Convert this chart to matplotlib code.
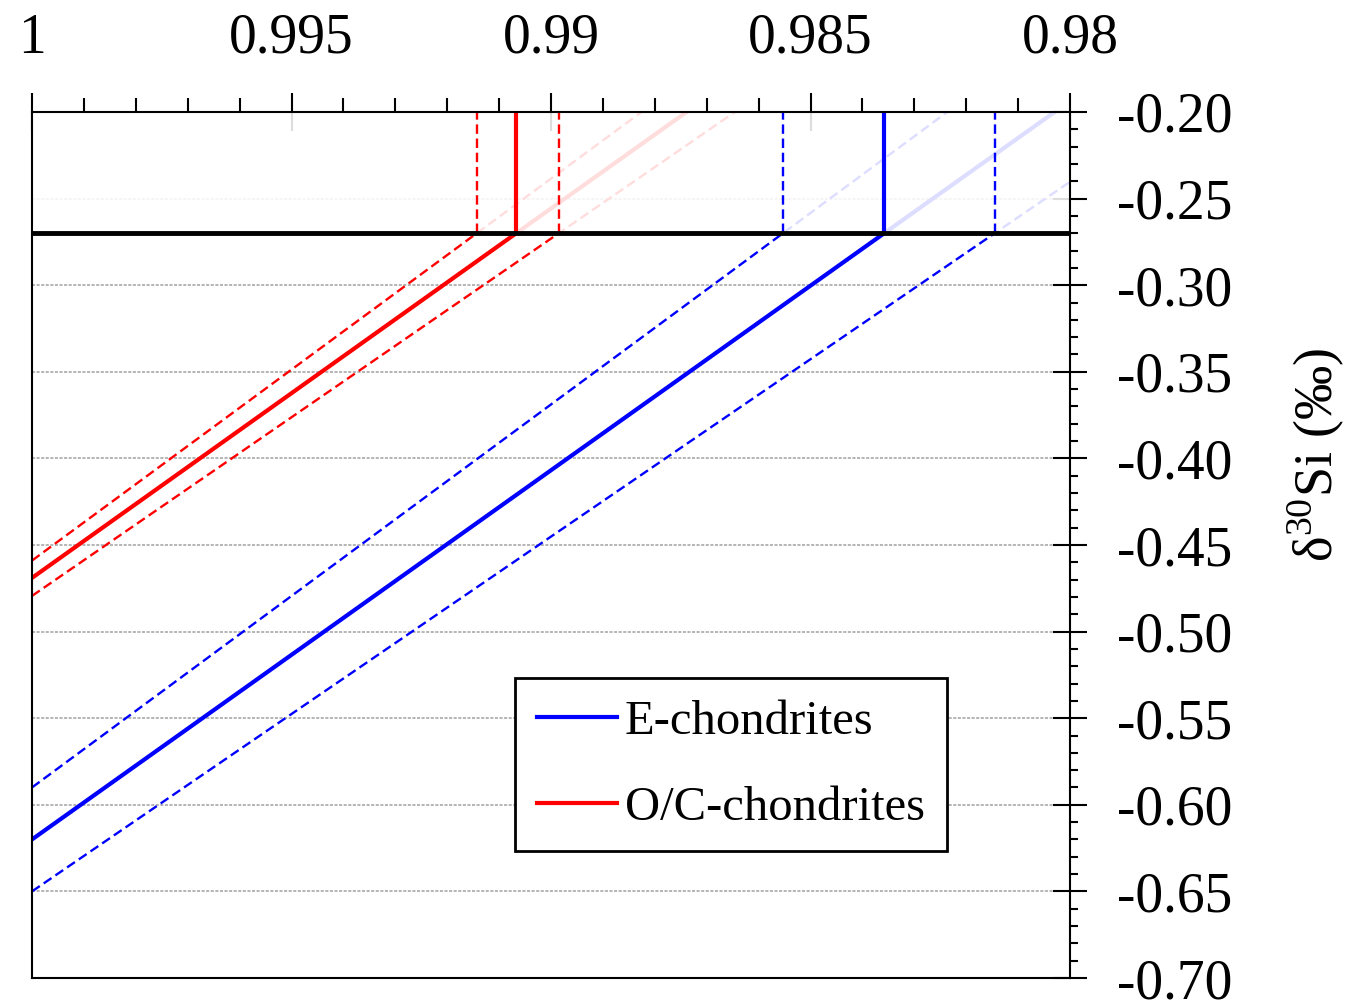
import numpy as np
import matplotlib
matplotlib.use("Agg")
import matplotlib.pyplot as plt
from matplotlib.ticker import MultipleLocator, FixedLocator, FixedFormatter

plt.rcParams['font.family'] = ['Liberation Serif', 'DejaVu Serif']
plt.rcParams['mathtext.fontset'] = 'custom'
plt.rcParams['mathtext.rm'] = 'Liberation Serif'

# level of the horizontal cut (permil)
y_cut = -0.27

# E-chondrites: value at x=1 and x where the line meets the cut (low, mean, high)
e_y0 = [-0.590, -0.620, -0.650]
e_xcut = [0.98553, 0.98358, 0.98145]

# O/C-chondrites
oc_y0 = [-0.459, -0.469, -0.4794]
oc_xcut = [0.99143, 0.99067, 0.98985]

x_ticks = [1.0, 0.995, 0.99, 0.985, 0.98]
x_labels = ['1', '0.995', '0.99', '0.985', '0.98']
y_ticks = [-0.70, -0.65, -0.60, -0.55, -0.50, -0.45, -0.40, -0.35, -0.30, -0.25, -0.20]
y_labels = ['-0.70', '-0.65', '-0.60', '-0.55', '-0.50', '-0.45', '-0.40',
            '-0.35', '-0.30', '-0.25', '-0.20']

fig = plt.figure(figsize=(13.5, 10.07), dpi=100)
ax = fig.add_axes([32 / 1350, 1 - 978 / 1007, 1038 / 1350, 866 / 1007])
ax.set_axisbelow(True)

ax.set_xlim(1.0, 0.98)
ax.set_ylim(-0.70, -0.20)


def draw_group(y0s, xcuts, color, label):
    for i, (y0, xc) in enumerate(zip(y0s, xcuts)):
        solid = i == 1
        ls = '-' if solid else (0, (4, 2))
        lw = 3 if solid else 1.7
        # full line through the cut point, up to the top of the plot
        x_top = 1 + (xc - 1) * (-0.20 - y0) / (y_cut - y0)
        ax.plot([1.0, x_top], [y0, -0.20], color=color, ls=ls, lw=lw,
                zorder=2, label=label if solid else None)
        # vertical line above the cut
        ax.plot([xc, xc], [y_cut, -0.20], color=color, ls=ls, lw=lw, zorder=4)


draw_group(e_y0, e_xcut, 'blue', 'E-chondrites')
draw_group(oc_y0, oc_xcut, 'red', 'O/C-chondrites')

# fade everything above the cut
ax.axhspan(y_cut, -0.20, color='white', alpha=0.87, zorder=3, lw=0)
ax.axhline(y_cut, color='black', lw=3.5, zorder=5)

ax.grid(axis='y', which='major', color='#a0a0a0', ls=(0, (2, 1)), lw=1.1)

ax.xaxis.tick_top()
ax.yaxis.tick_right()
ax.xaxis.set_major_locator(FixedLocator(x_ticks))
ax.xaxis.set_major_formatter(FixedFormatter(x_labels))
ax.xaxis.set_minor_locator(MultipleLocator(0.001))
ax.yaxis.set_major_locator(FixedLocator(y_ticks))
ax.yaxis.set_major_formatter(FixedFormatter(y_labels))
ax.yaxis.set_minor_locator(MultipleLocator(0.01))

ax.tick_params(axis='x', which='major', direction='inout', length=28, width=1.5,
               labelsize=40, pad=20)
ax.tick_params(axis='x', which='minor', direction='out', length=10, width=1.5)
ax.tick_params(axis='y', which='major', direction='inout', length=24, width=1.5,
               labelsize=40, pad=22)
ax.tick_params(axis='y', which='minor', direction='out', length=6, width=1.5)

for s in ax.spines.values():
    s.set_linewidth(1.5)
    s.set_zorder(6)

ax.yaxis.set_label_position('right')
ax.set_ylabel('δ$^{30}$Si (‰)', fontsize=39)
ax.yaxis.label.set_va('center')
ax.yaxis.set_label_coords((1315 - 32) / 1038, (978 - 455) / 866)

leg = ax.legend(loc='upper left', bbox_to_anchor=(0.465, 0.346), fontsize=35,
                frameon=True, fancybox=False, framealpha=1, edgecolor='black',
                handlelength=1.65, handletextpad=0.17, labelspacing=0.85,
                borderpad=0.45, borderaxespad=0)
leg.get_frame().set_linewidth(2)
leg.set_zorder(10)

fig.savefig('out.png', dpi=100)
